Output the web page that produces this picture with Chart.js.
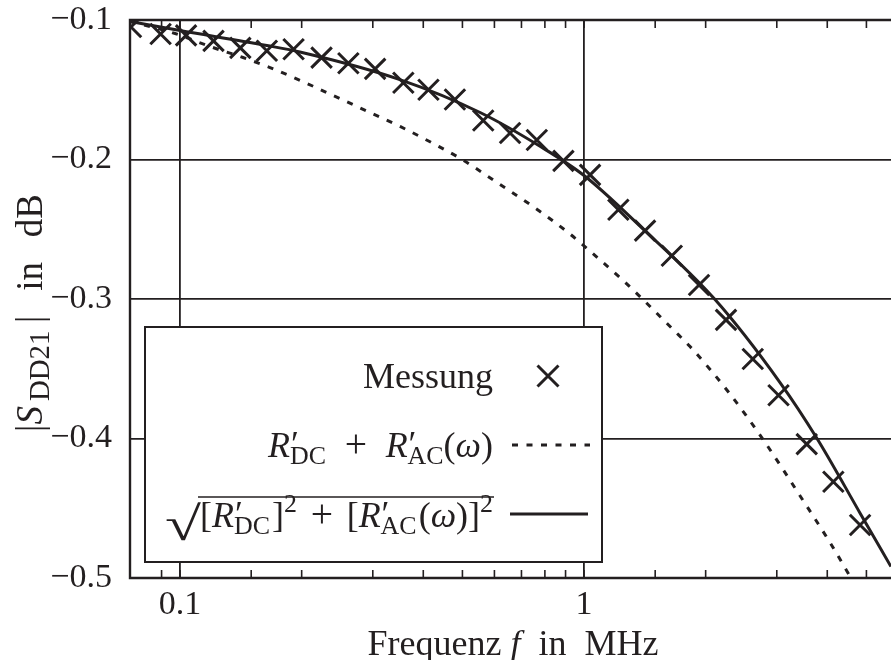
<!DOCTYPE html>
<html>
<head>
<meta charset="utf-8">
<script src="https://cdn.jsdelivr.net/npm/chart.js@4/dist/chart.umd.min.js"></script>
<style>
  html, body { margin: 0; padding: 0; background: #ffffff; overflow: hidden; }
  #wrap { width: 891px; height: 660px; }
  #c { display: block; }
</style>
</head>
<body>
<div id="wrap"><canvas id="c" width="891" height="660"></canvas></div>
<script>
// Measured insertion loss |S_DD21| (dB) over frequency (MHz)
const measFreq = [0.0756, 0.0895, 0.1035, 0.121, 0.141, 0.164, 0.191, 0.224, 0.261, 0.304,
                  0.357, 0.412, 0.479, 0.563, 0.656, 0.764, 0.889, 1.035, 1.216, 1.416,
                  1.649, 1.926, 2.246, 2.616, 3.03, 3.558, 4.141, 4.823];
const measDb   = [-0.105, -0.110, -0.111, -0.115, -0.120, -0.122, -0.121, -0.127, -0.131, -0.135,
                  -0.145, -0.150, -0.157, -0.172, -0.181, -0.186, -0.201, -0.211, -0.236, -0.251,
                  -0.269, -0.290, -0.315, -0.343, -0.369, -0.404, -0.431, -0.462];

// Model: R'_DC + R'_AC(omega)
const sumFreq = [0.0752, 0.0972, 0.1186, 0.1432, 0.167, 0.2062, 0.2391, 0.2742, 0.3504, 0.4327,
                 0.499, 0.609, 0.7476, 0.9129, 1.0231, 1.2346, 1.3997, 1.6612, 1.8298, 2.2722,
                 2.7741, 3.4843, 4.0628, 4.58];
const sumDb   = [-0.1011, -0.1097, -0.1190, -0.1269, -0.1341, -0.1455, -0.1541, -0.1620, -0.1763, -0.1900,
                 -0.2000, -0.2165, -0.2337, -0.2523, -0.2645, -0.2853, -0.3004, -0.3219, -0.3341, -0.3663,
                 -0.4007, -0.4444, -0.4746, -0.5000];

// Model: sqrt([R'_DC]^2 + [R'_AC(omega)]^2)
const rssFreq = [0.0752, 0.1, 0.164, 0.198, 0.350, 0.553, 0.778, 1.0, 1.376, 2.11,
                 3.056, 3.773, 4.823, 5.75];
const rssDb   = [-0.1011, -0.1075, -0.1183, -0.1229, -0.1427, -0.1663, -0.1905, -0.2115, -0.2478, -0.3004,
                 -0.3599, -0.400, -0.4535, -0.4918];

// Axis ranges and labelled ticks
const xRange = [0.07518, 5.752];
const yRange = [-0.5, -0.1];
const xTickLabels = ['0.1', '1'];
const yTickLabels = ['-0.5', '-0.4', '-0.3', '-0.2', '-0.1'];

const ink = '#231f20';
const FONT = '"Liberation Serif", "Times New Roman", serif';
const TICK = 34;
const BASE = 36;

function font(px, it) { return (it ? 'italic ' : '') + px + 'px ' + FONT; }
function isDecade(v) { const l = Math.log10(v); return Math.abs(l - Math.round(l)) < 1e-9; }

// Tiny mixed-style text renderer (italic, sub/superscripts).
// When a target width is given, the spare room goes after runs with a weight g.
function runsWidth(ctx, runs, base) {
  let w = 0;
  for (const r of runs) {
    ctx.font = font(base * (r.s || 1), r.it);
    if (r.adv !== false) w += ctx.measureText(r.t).width + (r.dx || 0);
  }
  return w;
}
function drawRuns(ctx, runs, x, y, base, target) {
  const weights = runs.reduce((a, r) => a + (r.g || 0), 0);
  const unit = target && weights ? (target - runsWidth(ctx, runs, base)) / weights : 0;
  for (const r of runs) {
    ctx.font = font(base * (r.s || 1), r.it);
    ctx.fillText(r.t, x + (r.ox || 0), y + (r.dy || 0) * base);
    if (r.adv !== false) x += ctx.measureText(r.t).width + (r.dx || 0) + unit * (r.g || 0);
  }
  return x;
}
const prime = { t: '\u2032', s: 1, dy: -0.02, ox: 1, adv: false };
const sub = (t, g, s) => ({ t, s: s || 0.72, dy: 0.2, g: g || 0 });
const sup = (t, g) => ({ t, s: 0.72, dy: -0.42, g: g || 0 });

const rowSum = [{ t: 'R', it: true }, prime, sub('DC', 1), { t: '+', s: 1.1, g: 1 },
                { t: 'R', it: true }, prime, sub('AC'), { t: '(' }, { t: '\u03c9', it: true }, { t: ')' }];
const rowRss = [{ t: '[' }, { t: 'R', it: true }, prime, sub('DC', 0.15), { t: ']' }, sup('2', 1), { t: '+', s: 1.1, g: 1 }, { t: '[' },
                { t: 'R', it: true }, prime, sub('AC', 0.15), { t: '(' }, { t: '\u03c9', it: true }, { t: ')' }, { t: ']' }, sup('2')];
const xTitle = [{ t: 'Frequenz ' }, { t: 'f', it: true }, { t: '  in  MHz' }];
const yTitle = [{ t: '|' }, { t: 'S', it: true, g: 0.2 }, sub('DD21', 0.3, 0.78), { t: '|', g: 1 }, { t: 'in', g: 1 }, { t: 'dB' }];

const zeroPad = s => { s.paddingLeft = 0; s.paddingRight = 0; s.paddingTop = 0; s.paddingBottom = 0; };

const decor = {
  id: 'decor',
  beforeDatasetsDraw(chart) {
    const { ctx, chartArea: a, scales: { x } } = chart;
    ctx.save();
    ctx.strokeStyle = ink;
    ctx.lineWidth = 1.6;
    ctx.beginPath();
    x.ticks.forEach(t => {
      const px = x.getPixelForValue(t.value);
      if (px <= a.left + 2 || px >= a.right - 2) return;
      ctx.moveTo(px, a.bottom); ctx.lineTo(px, a.bottom - 8);
      ctx.moveTo(px, a.top); ctx.lineTo(px, a.top + 8);
    });
    ctx.stroke();
    ctx.lineWidth = 2.4;
    ctx.beginPath();
    ctx.moveTo(a.right + 2, a.top); ctx.lineTo(a.left, a.top);
    ctx.lineTo(a.left, a.bottom); ctx.lineTo(a.right + 2, a.bottom);
    ctx.stroke();
    ctx.restore();
  },
  afterDatasetsDraw(chart) {
    const { ctx } = chart;
    ctx.save();
    ctx.strokeStyle = ink;
    ctx.textBaseline = 'alphabetic';
    ctx.textAlign = 'left';

    // legend box
    ctx.fillStyle = '#ffffff';
    ctx.fillRect(145, 327, 457, 235);
    ctx.lineWidth = 2;
    ctx.strokeRect(145, 327, 457, 235);
    ctx.fillStyle = ink;

    const textRight = 493;
    // row 1: measurement
    ctx.font = font(BASE);
    const wm = ctx.measureText('Messung').width;
    ctx.fillText('Messung', textRight - wm, 388);
    ctx.lineWidth = 3;
    ctx.beginPath();
    ctx.moveTo(548 - 10.5, 376 - 10.5); ctx.lineTo(548 + 10.5, 376 + 10.5);
    ctx.moveTo(548 + 10.5, 376 - 10.5); ctx.lineTo(548 - 10.5, 376 + 10.5);
    ctx.stroke();

    // row 2: sum model
    drawRuns(ctx, rowSum, textRight - 225, 457, BASE, 225);
    ctx.setLineDash([6, 8.5]);
    ctx.beginPath(); ctx.moveTo(512, 445); ctx.lineTo(590, 445); ctx.stroke();
    ctx.setLineDash([]);

    // row 3: root-sum-square model under a radical
    const xs = 200;
    drawRuns(ctx, rowRss, xs, 527, BASE, textRight - xs);
    ctx.save();
    ctx.font = font(BASE * 1.3);
    const wr = ctx.measureText('\u221a').width;
    ctx.translate(xs - wr * 1.4 + 1, 540);
    ctx.scale(1.4, 1.02);
    ctx.fillText('\u221a', 0, 0);
    ctx.restore();
    ctx.lineWidth = 1.6;
    ctx.beginPath(); ctx.moveTo(xs - 2, 497); ctx.lineTo(textRight + 1, 497); ctx.stroke();
    ctx.lineWidth = 3;
    ctx.beginPath(); ctx.moveTo(510, 514); ctx.lineTo(588, 514); ctx.stroke();

    // axis titles
    const wx = runsWidth(ctx, xTitle, BASE);
    drawRuns(ctx, xTitle, 513 - wx / 2, 655, BASE);

    ctx.translate(42, 312);
    ctx.rotate(-Math.PI / 2);
    drawRuns(ctx, yTitle, -120, 0, 37, 238);
    ctx.restore();
  }
};

new Chart(document.getElementById('c'), {
  type: 'scatter',
  data: {
    datasets: [
      {
        label: 'Messung',
        data: measFreq.map((f, i) => ({ x: f, y: measDb[i] })),
        showLine: false,
        pointStyle: 'crossRot',
        pointRadius: 14.5,
        pointBorderWidth: 3,
        borderColor: ink,
        backgroundColor: ink,
        order: 0
      },
      {
        label: "R'DC + R'AC(w)",
        data: sumFreq.map((f, i) => ({ x: f, y: sumDb[i] })),
        showLine: true,
        pointRadius: 0,
        borderColor: ink,
        borderWidth: 3,
        borderDash: [6, 8.5],
        cubicInterpolationMode: 'monotone',
        order: 2
      },
      {
        label: "sqrt([R'DC]^2 + [R'AC(w)]^2)",
        data: rssFreq.map((f, i) => ({ x: f, y: rssDb[i] })),
        showLine: true,
        pointRadius: 0,
        borderColor: ink,
        borderWidth: 3,
        cubicInterpolationMode: 'monotone',
        order: 1
      }
    ]
  },
  options: {
    responsive: false,
    animation: false,
    devicePixelRatio: 1,
    layout: { autoPadding: false, padding: { top: 20, left: 0, right: 0, bottom: 0 } },
    plugins: { legend: { display: false }, tooltip: { enabled: false } },
    scales: {
      x: {
        type: 'logarithmic',
        min: xRange[0],
        max: xRange[1],
        border: { display: false },
        grid: {
          drawTicks: false,
          lineWidth: 1.8,
          color: c => (c.tick && isDecade(c.tick.value) && c.tick.value > xRange[0] && c.tick.value < xRange[1]) ? ink : 'rgba(0,0,0,0)'
        },
        ticks: {
          autoSkip: false,
          maxRotation: 0,
          padding: 7,
          color: ink,
          font: { family: FONT, size: TICK },
          callback: v => {
            const s = String(Math.round(v * 1000) / 1000);
            return isDecade(v) && xTickLabels.includes(s) ? s : '';
          }
        },
        afterFit: s => { s.height = 82; zeroPad(s); }
      },
      y: {
        min: yRange[0],
        max: yRange[1],
        border: { display: false },
        grid: {
          drawTicks: false,
          lineWidth: 1.8,
          color: c => (c.tick && c.tick.value > yRange[0] + 1e-6 && c.tick.value < yRange[1] - 1e-6) ? ink : 'rgba(0,0,0,0)'
        },
        ticks: {
          stepSize: 0.1,
          padding: 18,
          color: ink,
          font: { family: FONT, size: TICK },
          callback: v => {
            const s = (Math.round(v * 10) / 10).toFixed(1);
            return yTickLabels.includes(s) ? s.replace('-', '\u2212') : '';
          }
        },
        afterFit: s => { s.width = 130; zeroPad(s); }
      }
    }
  },
  plugins: [decor]
});
</script>
</body>
</html>
